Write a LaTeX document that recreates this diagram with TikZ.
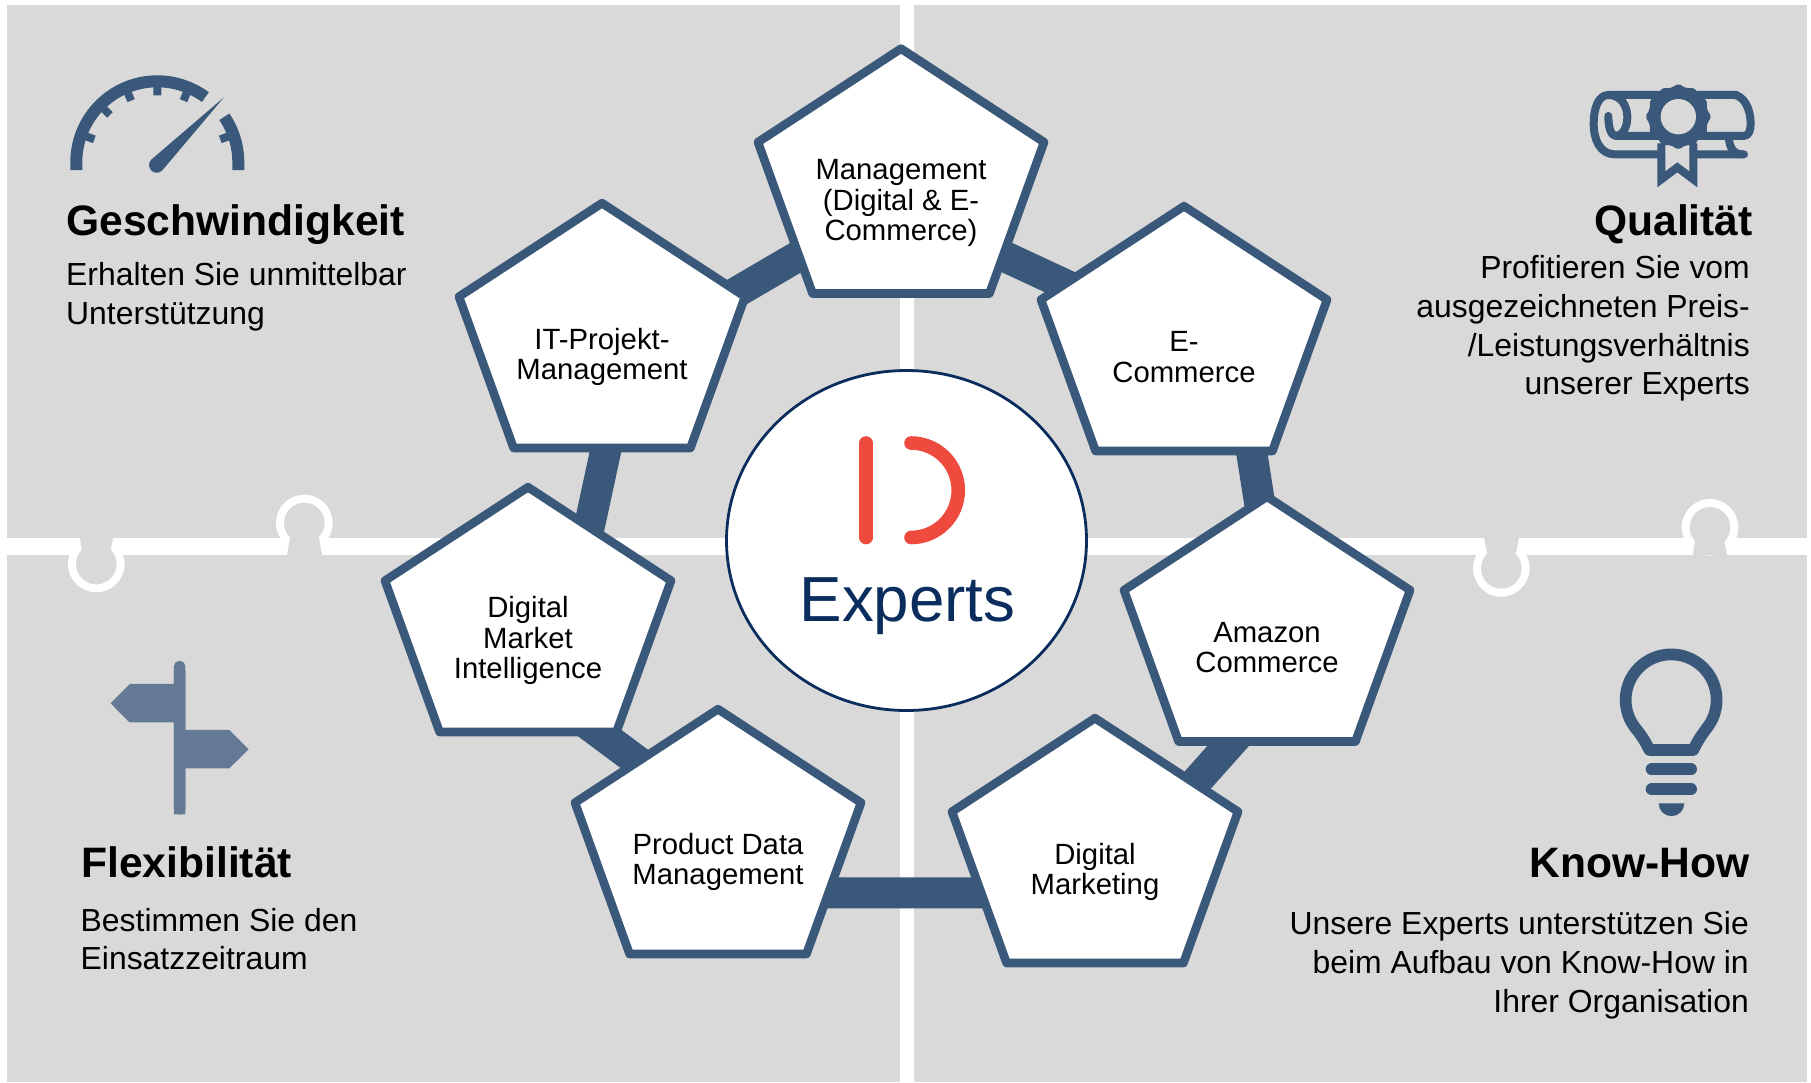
\documentclass[tikz,border=0pt]{standalone}
\usepackage{fontspec}
\usetikzlibrary{shapes.geometric, backgrounds}
\setmainfont{Liberation Sans}
\definecolor{panelgrey}{HTML}{D9D9D9}
\definecolor{edgeblue}{HTML}{3A5879}
\definecolor{signblue}{HTML}{647994}
\definecolor{hubnavy}{HTML}{0A2D5E}
\definecolor{logored}{HTML}{EE4B3E}
\tikzset{
    pent/.style = {regular polygon, regular polygon sides=5, minimum size=300.8pt, inner sep=0pt, outer sep=0pt,
        draw=edgeblue, fill=white, line width=8.6pt, line join=round, transform shape, yscale=.9},
    link/.style = {edgeblue, line width=31pt, shorten >=-25pt, shorten <=-25pt},
    penttext/.style = {align=center, inner sep=0pt, font=\fontsize{29.3}{30.5}\selectfont},
    headline/.style = {inner sep=0pt, font=\bfseries\fontsize{42.6}{46}\selectfont},
    bodyleft/.style = {align=left, anchor=north west, inner sep=0pt, font=\fontsize{31.9}{38.7}\selectfont},
    bodyright/.style = {align=right, anchor=north east, inner sep=0pt, font=\fontsize{31.9}{38.7}\selectfont},
    icon/.style = {edgeblue, line width=8pt, line cap=round, line join=round}
}
\begin{document}
\begin{tikzpicture}[x=1pt, y=-1pt]
    \useasboundingbox (0,0) rectangle (1811,1082);
    \node[pent] (mgmt) at (901,184) {};
    \node[pent] (ecom) at (1184,341.5) {};
    \node[pent] (amazon) at (1267,632) {};
    \node[pent] (dmkt) at (1095,853.5) {};
    \node[pent] (pdm) at (718,844.5) {};
    \node[pent] (dmi) at (528,622.5) {};
    \node[pent] (itpm) at (602,338.5) {};
    \node[penttext] (mgmttext) at (901,203) {Management\\(Digital \& E-\\Commerce)};
    \node[penttext] (ecomtext) at (1184,357) {E-\\Commerce};
    \node[penttext] (amazontext) at (1267,647.5) {Amazon\\Commerce};
    \node[penttext] (dmkttext) at (1095,872) {Digital\\Marketing};
    \node[penttext] (pdmtext) at (718,862) {Product Data\\Management};
    \node[penttext] (dmitext) at (528,640.5) {Digital\\Market\\Intelligence};
    \node[penttext] (itpmtext) at (602,357) {IT-Projekt-\\Management};
    \node[ellipse, draw=hubnavy, fill=white, line width=2.8pt, minimum width=360pt, minimum height=340pt, inner sep=0pt] (hub) at (906.5,540.5) {};
    \node[anchor=base, inner sep=0pt, text=hubnavy, font=\fontsize{63.7}{70}\selectfont] (hubtext) at (907.5,621.7) {Experts};
    \draw[logored, line width=13.6pt, line cap=round] (866,443) -- (866,537.5);
    \draw[logored, line width=13.6pt, line cap=round] (911,443) arc (90:-90:47.25pt);

    \node[headline, anchor=base west] (speedhead) at (66,235) {Geschwindigkeit};
    \node[bodyleft] (speedbody) at (66,262) {Erhalten Sie unmittelbar\\Unterstützung};
    \node[headline, anchor=base east] (qualhead) at (1753,235) {Qualität};
    \node[bodyright] (qualbody) at (1750,255.5) {Profitieren Sie vom\\ausgezeichneten Preis-\\/Leistungsverhältnis\\unserer Experts};
    \node[headline, anchor=base west] (flexhead) at (81,877) {Flexibilität};
    \node[bodyleft] (flexbody) at (80.5,907.7) {Bestimmen Sie den\\Einsatzzeitraum};
    \node[headline, anchor=base east] (knowhead) at (1750,877) {Know-How};
    \node[bodyright] (knowbody) at (1749,911.5) {Unsere Experts unterstützen Sie\\beim Aufbau von Know-How in\\Ihrer Organisation};

    \draw[edgeblue, line width=12pt] (76.3,170) -- (76.3,162.3) arc (180:53.6:81pt);
    \draw[edgeblue, line width=12pt] (238.3,170) -- (238.3,162.3) arc (0:34.2:81pt);
    \draw[edgeblue, line width=8pt, shift={(157.3,162.3)}] (160:78pt) -- (160:67pt) (135:78pt) -- (135:67pt) (113:78pt) -- (113:67pt)
        (90:78pt) -- (90:67pt) (67:78pt) -- (67:67pt) (20:78pt) -- (20:67pt);
    \fill[edgeblue] (224,97.3) -- (151.3,159.6) arc (135:315:7.7pt) -- cycle;

    \begin{scope}[shift={(1540,60)}, scale=.3333]
        \draw[icon] (590,105) -- (205,105) .. controls (175,105) and (161,145) .. (161,190) .. controls (161,240) and (180,283) .. (225,283) -- (612,283);
        \draw[icon] (205,105) .. controls (245,105) and (262,140) .. (262,172) .. controls (262,205) and (245,228) .. (228,228) .. controls (212,228) and (205,200) .. (205,168);
        \draw[icon] (228,228) -- (610,228) .. controls (628,228) and (632,210) .. (632,190) .. controls (632,145) and (610,105) .. (580,105);
        \draw[icon] (567,232) .. controls (567,260) and (580,283) .. (605,283);
        \filldraw[icon, fill=panelgrey, line cap=butt, line join=miter] (364,250) -- (364,358) -- (412,322) -- (460,358) -- (460,250);
        \node[star, star points=12, star point ratio=1.12, fill=edgeblue, minimum size=66pt, inner sep=0pt, rounded corners=2pt] (seal) at (415,170) {};
        \fill[panelgrey] (415,170) circle[radius=53];
    \end{scope}

    \begin{scope}[shift={(0,480)}, scale=.3333]
        \fill[signblue, rounded corners=5pt] (522,1003) -- (522,543) -- (556,543) -- (556,1003) -- cycle;
        \fill[signblue] (522,1003) -- (522,727) -- (388,727) -- (332,670) -- (390,612) -- (522,612) -- (522,570) -- (556,570) -- (556,750) -- (688,750) -- (746,808) -- (688,865) -- (556,865) -- (556,1003) -- cycle;
    \end{scope}

    \begin{scope}[shift={(1400,480)}, scale=.3333]
        \draw[edgeblue, line width=11.7pt, line join=round] (748,810) -- (880,810) .. controls (893,782) and (905,765) .. (920,745) arc (-38.7:218.7:136.5pt) .. controls (723,765) and (735,782) .. (748,810) -- cycle;
        \draw[edgeblue, line width=12pt, line cap=round] (755,868) -- (873,868);
        \draw[edgeblue, line width=12pt, line cap=round] (755,928) -- (873,928);
        \fill[edgeblue] (776,970) arc (180:360:38.5pt) -- cycle;
    \end{scope}

    \begin{scope}[on background layer]
        \fill[panelgrey] (7,555) rectangle (900,1082);
        \fill[panelgrey] (914,555) rectangle (1807,1082);
        \fill[white] (96.3,564) circle[radius=28.3] (1501.3,568.4) circle[radius=28.3];
        \fill[panelgrey] (7,5) rectangle (900,538);
        \fill[panelgrey] (914,5) rectangle (1807,538);
        \fill[white] (304.3,523) circle[radius=28.3] (1710,527.3) circle[radius=28.3];
        \fill[panelgrey] (96.3,564) circle[radius=20.3] (304.3,523) circle[radius=20.3] (1501.3,568.4) circle[radius=20.3] (1710,527.3) circle[radius=20.3];
        \fill[panelgrey] (80,538) -- (113,538) -- (110.8,550) -- (81.8,550) -- cycle;
        \fill[panelgrey] (287,555) -- (322,555) -- (319,538) -- (290,538) -- cycle;
        \fill[panelgrey] (1484,538) -- (1519,538) -- (1516,553) -- (1487,553) -- cycle;
        \fill[panelgrey] (1693,555) -- (1727,555) -- (1724,540) -- (1695,540) -- cycle;
        \draw[link] (itpm.21.3) -- (mgmt.218.7);
        \draw[link] (mgmt.-38.1) -- (ecom.152.9);
        \draw[link] (ecom.-61.4) -- (amazon.93.6);
        \draw[link] (amazon.254.3) -- (dmkt.38.9);
        \draw[link] (dmkt.201.1) -- (pdm.-26);
        \draw[link] (pdm.131.7) -- (dmi.-60.2);
        \draw[link] (dmi.60.1) -- (itpm.272.6);
    \end{scope}
\end{tikzpicture}
\end{document}
